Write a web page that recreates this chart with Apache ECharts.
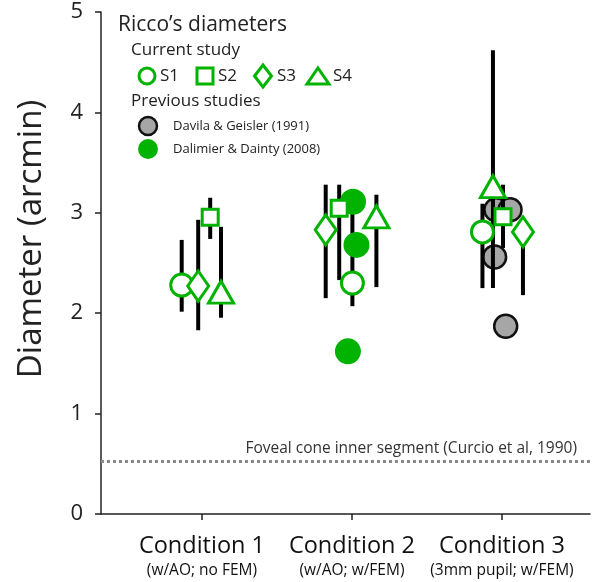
<!DOCTYPE html>
<html><head><meta charset="utf-8">
<script src="https://cdn.jsdelivr.net/npm/echarts@6/dist/echarts.min.js"></script>
<style>html,body{margin:0;padding:0;background:#fff}#c{width:592px;height:582px}</style>
</head><body><div id="c"></div><script>
// ---- data ----
const conditions = ['Condition 1', 'Condition 2', 'Condition 3'];
const conditionNotes = ['(w/AO; no FEM)', '(w/AO; w/FEM)', '(3mm pupil; w/FEM)'];
const conditionX = [1, 2, 3];
const yTicks = [0, 1, 2, 3, 4, 5];

const s1Mean = [2.28, 2.30, 2.81];
const s1Low  = [2.015, 2.07, 2.25];
const s1High = [2.73, 3.15, 3.09];
const s1Jitter = [-0.135, 0.003, -0.13];

const s2Mean = [2.955, 3.045, 2.96];
const s2Low  = [2.74, 2.33, 2.65];
const s2High = [3.15, 3.28, 3.28];
const s2Jitter = [0.055, -0.085, 0.007];

const s3Mean = [2.27, 2.83, 2.81];
const s3Low  = [1.83, 2.15, 2.18];
const s3High = [2.93, 3.28, 2.95];
const s3Jitter = [-0.025, -0.175, 0.14];

const s4Mean = [2.21, 2.96, 3.26];
const s4Low  = [1.955, 2.26, 2.25];
const s4High = [2.86, 3.18, 4.62];
const s4Jitter = [0.127, 0.163, -0.06];

const davilaX = [2.96, 3.054, 2.951, 3.025];
const davilaY = [3.03, 3.03, 2.56, 1.87];
const dalimierX = [2.007, 2.03, 1.973];
const dalimierY = [3.11, 2.68, 1.62];
const coneInnerSegment = 0.53;
const coneLabel = 'Foveal cone inner segment (Curcio et al, 1990)';

// ---- build ----
const GREEN = '#00b300';
const FONT = 'Open Sans';
const subj = [
  {name: 'S1', m: s1Mean, lo: s1Low, hi: s1High, j: s1Jitter, symbol: 'circle', size: 22},
  {name: 'S2', m: s2Mean, lo: s2Low, hi: s2High, j: s2Jitter, symbol: 'rect', size: 16},
  {name: 'S3', m: s3Mean, lo: s3Low, hi: s3High, j: s3Jitter, symbol: 'diamond', size: [21, 30]},
  {name: 'S4', m: s4Mean, lo: s4Low, hi: s4High, j: s4Jitter, symbol: 'triangle', size: [25, 22]}
];
const barData = [];
subj.forEach(s => s.m.forEach((v, i) => barData.push([conditionX[i] + s.j[i], s.lo[i], s.hi[i]])));

const series = [];
series.push({
  type: 'scatter', name: 'Davila', z: 1,
  data: davilaX.map((x, i) => [x, davilaY[i]]),
  symbol: 'circle', symbolSize: 23,
  itemStyle: {color: '#a6a6a6', borderColor: '#111', borderWidth: 2.5, opacity: 1}
});
series.push({
  type: 'custom', name: 'errors', z: 2,
  data: barData,
  renderItem: function (params, api) {
    const p1 = api.coord([api.value(0), api.value(1)]);
    const p2 = api.coord([api.value(0), api.value(2)]);
    return {type: 'line', shape: {x1: p1[0], y1: p1[1], x2: p2[0], y2: p2[1]},
      style: {stroke: '#000', lineWidth: 4}};
  },
  markLine: {
    silent: true, symbol: 'none',
    lineStyle: {type: [3, 3], color: '#8a8a8a', width: 3},
    label: {show: true, position: 'insideEndTop', formatter: coneLabel,
      fontFamily: FONT, fontSize: 15.5, color: '#333', distance: [13, 4]},
    data: [{yAxis: coneInnerSegment}]
  }
});
series.push({
  type: 'scatter', name: 'Dalimier', z: 3,
  data: dalimierX.map((x, i) => [x, dalimierY[i]]),
  symbol: 'circle', symbolSize: 26,
  itemStyle: {color: GREEN, opacity: 1}
});
subj.forEach((s, k) => series.push({
  type: 'scatter', name: s.name, z: 4 + k,
  data: s.m.map((v, i) => [conditionX[i] + s.j[i], v]),
  symbol: s.symbol, symbolSize: s.size,
  itemStyle: {color: '#fff', borderColor: GREEN, borderWidth: 3, opacity: 1}
}));

// legend graphics
const lg = [];
function txt(x, y, t, size) {
  lg.push({type: 'text', x: x, y: y, style: {text: t, fontFamily: FONT, fontSize: size, fill: '#222',
    textAlign: 'left', textVerticalAlign: 'middle'}});
}
txt(118, 25, 'Ricco\u2019s diameters', 21);
txt(131, 50, 'Current study', 17);
txt(131, 101, 'Previous studies', 17);
const ls = {stroke: GREEN, lineWidth: 3, fill: '#fff'};
lg.push({type: 'circle', shape: {cx: 147, cy: 76, r: 8}, style: ls});
txt(160, 76, 'S1', 17);
lg.push({type: 'rect', shape: {x: 197, y: 68, width: 16, height: 16}, style: ls});
txt(218, 76, 'S2', 17);
lg.push({type: 'polygon', shape: {points: [[263, 65], [271.5, 76], [263, 87], [254.5, 76]]}, style: ls});
txt(277, 76, 'S3', 17);
lg.push({type: 'polygon', shape: {points: [[318, 68], [329, 84], [307, 84]]}, style: ls});
txt(333, 76, 'S4', 17);
lg.push({type: 'circle', shape: {cx: 148, cy: 126, r: 9}, style: {fill: '#a6a6a6', stroke: '#111', lineWidth: 2.5}});
txt(173, 126, 'Davila & Geisler (1991)', 13);
lg.push({type: 'circle', shape: {cx: 148, cy: 149, r: 10}, style: {fill: GREEN}});
txt(173, 149, 'Dalimier & Dainty (2008)', 13);
lg.push({type: 'text', x: 32, y: 239, rotation: Math.PI / 2,
  style: {text: 'Diameter (arcmin)', fontFamily: FONT, fontSize: 33, fill: '#222',
    textAlign: 'center', textVerticalAlign: 'middle'}});

const chart = echarts.init(document.getElementById('c'));
chart.setOption({
  animation: false,
  backgroundColor: '#fff',
  grid: {left: 101, right: 2, top: 12, bottom: 68},
  xAxis: {
    type: 'value', min: 0.327, max: 3.587,
    axisLine: {show: true, lineStyle: {color: '#222', width: 1.5}},
    splitLine: {show: false},
    axisTick: {show: true, customValues: conditionX, length: 6, lineStyle: {color: '#222', width: 1.5}},
    axisLabel: {
      customValues: conditionX, margin: 18,
      formatter: function (v) {
        const i = conditionX.indexOf(Math.round(v));
        return '{a|' + conditions[i] + '}\n{b|' + conditionNotes[i] + '}';
      },
      rich: {
        a: {fontFamily: FONT, fontSize: 23.5, color: '#111', lineHeight: 29},
        b: {fontFamily: FONT, fontSize: 15.5, color: '#111', lineHeight: 20}
      }
    }
  },
  yAxis: {
    type: 'value', min: 0, max: 5, interval: 1,
    axisLine: {show: true, lineStyle: {color: '#222', width: 1.5}},
    splitLine: {show: false},
    axisTick: {show: true, length: 6, lineStyle: {color: '#222', width: 1.5}},
    axisLabel: {fontFamily: FONT, fontSize: 22, color: '#222', margin: 18,
      customValues: yTicks}
  },
  graphic: lg,
  series: series
});
</script></body></html>
